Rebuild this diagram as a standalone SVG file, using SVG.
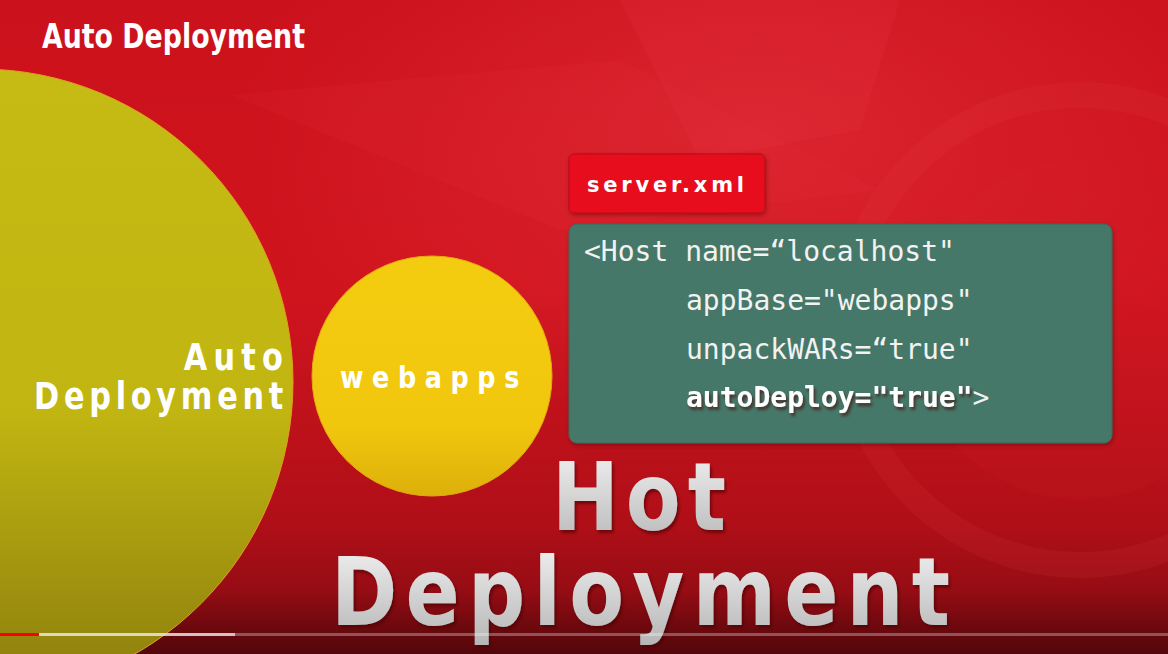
<svg xmlns="http://www.w3.org/2000/svg" width="1168" height="654" viewBox="0 0 1168 654">
  <defs>
    <linearGradient id="bg" x1="0" y1="0" x2="0" y2="1">
      <stop offset="0" stop-color="#cb111b"/>
      <stop offset="0.45" stop-color="#d0141e"/>
      <stop offset="0.8" stop-color="#b00f18"/>
      <stop offset="1" stop-color="#7e0a10"/>
    </linearGradient>
    <radialGradient id="glow" cx="0.65" cy="0.2" r="0.45">
      <stop offset="0" stop-color="#ec3a44" stop-opacity="0.45"/>
      <stop offset="1" stop-color="#ec3a44" stop-opacity="0"/>
    </radialGradient>
    <linearGradient id="bigCircle" x1="0" y1="0" x2="0" y2="1">
      <stop offset="0" stop-color="#c6bb14"/>
      <stop offset="0.55" stop-color="#c1b512"/>
      <stop offset="1" stop-color="#8a7c0c"/>
    </linearGradient>
    <linearGradient id="webCircle" x1="0" y1="0" x2="0" y2="1">
      <stop offset="0" stop-color="#f3cc10"/>
      <stop offset="0.7" stop-color="#f1c70e"/>
      <stop offset="1" stop-color="#ddb00a"/>
    </linearGradient>
    <linearGradient id="hotText" x1="0" y1="0" x2="0" y2="1">
      <stop offset="0" stop-color="#f4f4f4"/>
      <stop offset="1" stop-color="#b4b4b4"/>
    </linearGradient>
    <linearGradient id="bottomShade" x1="0" y1="0" x2="0" y2="1">
      <stop offset="0" stop-color="#000" stop-opacity="0"/>
      <stop offset="1" stop-color="#000" stop-opacity="0.35"/>
    </linearGradient>
    <filter id="shadow" x="-10%" y="-10%" width="130%" height="140%">
      <feDropShadow dx="2" dy="3" stdDeviation="1.5" flood-color="#4a0006" flood-opacity="0.6"/>
    </filter>
    <filter id="softShadow" x="-10%" y="-10%" width="130%" height="140%">
      <feDropShadow dx="1" dy="2" stdDeviation="2" flood-color="#300" flood-opacity="0.35"/>
    </filter>
    <style>
      .label { fill: #ffffff; font-family: "DejaVu Sans", "Liberation Sans", sans-serif; font-weight: bold; }
      .code { fill: #f2f2f2; font-family: "DejaVu Sans Mono", "Liberation Mono", monospace; font-size: 28px; }
      .codeBold { font-weight: bold; fill: #ffffff; }
      .hot { fill: url(#hotText); font-family: "DejaVu Sans", "Liberation Sans", sans-serif; font-weight: bold; font-size: 94px; }
    </style>
  </defs>

  <!-- background -->
  <rect x="0" y="0" width="1168" height="654" fill="url(#bg)"/>
  <rect x="0" y="0" width="1168" height="654" fill="url(#glow)"/>
  <path d="M230 95 L620 60 L880 190 L560 230 Z" fill="#e3343e" opacity="0.12"/>
  <path d="M620 0 L900 0 L860 130 L700 160 Z" fill="#ee4450" opacity="0.12"/>
  <circle cx="1080" cy="330" r="235" fill="none" stroke="#e8424c" stroke-width="26" opacity="0.12"/>
  <circle cx="1080" cy="330" r="170" fill="#d42a34" opacity="0.1"/>
  <rect x="0" y="590" width="1168" height="64" fill="url(#bottomShade)"/>

  <g id="title">
    <text class="label" x="42" y="48" font-size="34" textLength="263" lengthAdjust="spacingAndGlyphs">Auto Deployment</text>
  </g>

  <g id="auto-deployment-circle">
    <circle cx="-20" cy="382" r="313" fill="url(#bigCircle)" stroke="#e0a020" stroke-width="1"/>
    <g transform="scale(0.82 1)">
      <text class="label" x="345" y="370" font-size="37" text-anchor="end" textLength="121" lengthAdjust="spacing">Auto</text>
      <text class="label" x="41.5" y="409" font-size="37" textLength="304" lengthAdjust="spacing">Deployment</text>
    </g>
  </g>

  <g id="webapps-circle">
    <circle cx="432" cy="376" r="120" fill="url(#webCircle)" stroke="#e6a812" stroke-width="1"/>
    <g transform="scale(0.85 1)">
      <text class="label" x="400" y="388" font-size="30" textLength="211" lengthAdjust="spacing">webapps</text>
    </g>
  </g>

  <g id="server-xml">
    <rect x="569" y="154" width="196" height="59" rx="5" fill="#e8101d" stroke="#b80c16" stroke-width="1" filter="url(#softShadow)"/>
    <text class="label" x="587" y="192" font-size="21" textLength="157" lengthAdjust="spacing">server.xml</text>
  </g>

  <g id="host-config">
    <rect x="569" y="224" width="543" height="219" rx="8" fill="#457868" stroke="#3a6a5b" stroke-width="1" filter="url(#softShadow)"/>
    <text class="code" x="584" y="261">&lt;Host name=“localhost"</text>
    <text class="code" x="686" y="310">appBase="webapps"</text>
    <text class="code" x="686" y="359">unpackWARs=“true"</text>
    <text class="code" x="686" y="407"><tspan class="codeBold" filter="url(#shadow)">autoDeploy="true"</tspan>&gt;</text>
  </g>

  <g id="hot-deployment" filter="url(#shadow)">
    <g transform="scale(0.85 1)">
      <text class="hot" x="649.4" y="530" textLength="204.7" lengthAdjust="spacing">Hot</text>
      <text class="hot" x="389.4" y="625" textLength="728.2" lengthAdjust="spacing">Deployment</text>
    </g>
  </g>

  <g id="connectors"></g>

  <g id="progress-bar">
    <rect x="0" y="633" width="1168" height="3" fill="#ffffff" opacity="0.3"/>
    <rect x="38" y="633" width="197" height="3" fill="#e8e8e8" opacity="0.75"/>
    <rect x="0" y="633" width="39" height="3" fill="#ff0000"/>
  </g>
</svg>
